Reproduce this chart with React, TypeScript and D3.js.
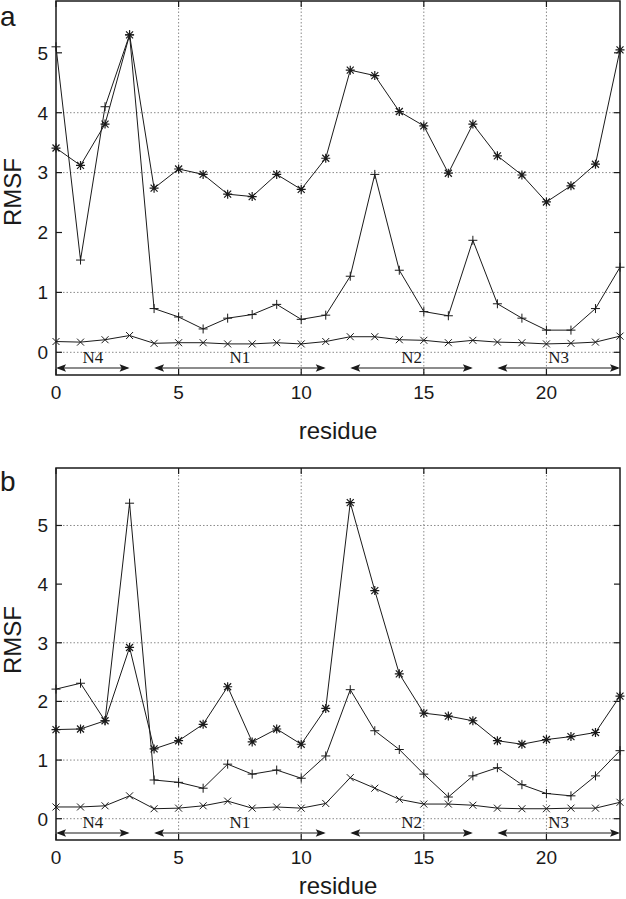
import React from "react";
import * as d3 from "d3";

const residues = [0,1,2,3,4,5,6,7,8,9,10,11,12,13,14,15,16,17,18,19,20,21,22,23];

const aStar = [3.41,3.12,3.81,5.30,2.74,3.06,2.97,2.64,2.60,2.97,2.72,3.24,4.71,4.62,4.02,3.78,2.99,3.81,3.28,2.96,2.51,2.78,3.14,5.05];
const aPlus = [5.10,1.54,4.10,5.30,0.73,0.59,0.39,0.57,0.63,0.80,0.55,0.62,1.27,2.97,1.37,0.68,0.61,1.87,0.81,0.57,0.37,0.37,0.73,1.42];
const aCross = [0.18,0.17,0.21,0.28,0.15,0.16,0.16,0.14,0.14,0.16,0.14,0.18,0.26,0.26,0.21,0.20,0.16,0.20,0.17,0.16,0.14,0.15,0.17,0.27];

const bStar = [1.52,1.53,1.67,2.92,1.19,1.33,1.61,2.25,1.31,1.53,1.27,1.88,5.39,3.89,2.47,1.80,1.75,1.67,1.33,1.27,1.35,1.40,1.47,2.09];
const bPlus = [2.21,2.31,1.67,5.38,0.66,0.62,0.52,0.93,0.76,0.83,0.69,1.07,2.20,1.50,1.18,0.76,0.37,0.73,0.87,0.58,0.43,0.39,0.73,1.16];
const bCross = [0.20,0.20,0.22,0.39,0.17,0.18,0.22,0.30,0.18,0.20,0.18,0.26,0.70,0.52,0.33,0.25,0.25,0.23,0.18,0.17,0.17,0.18,0.18,0.28];

const regionNames = ["N4", "N1", "N2", "N3"];
const regionStart = [0, 4, 12, 18];
const regionEnd = [3, 11, 17, 23];

const xTicks = [0, 5, 10, 15, 20];
const yTicks = [0, 1, 2, 3, 4, 5];
const gridA = [0, 1, 3, 4];
const gridB = [0, 1, 2, 3, 5];

const SANS = "Liberation Sans, Arial, Helvetica, sans-serif";
const SERIF = "Liberation Serif, Times New Roman, serif";
const INK = "#1a1a1a";

type Kind = "star" | "plus" | "cross";

function Marker({ x, y, kind }: { x: number; y: number; kind: Kind }) {
  const p = 4.5;
  const c = 3.5;
  const plus = `M${x - p},${y}H${x + p}M${x},${y - p}V${y + p}`;
  const cross = `M${x - c},${y - c}L${x + c},${y + c}M${x - c},${y + c}L${x + c},${y - c}`;
  const d = kind === "plus" ? plus : kind === "cross" ? cross : plus + cross;
  return <path d={d} stroke={INK} strokeWidth={kind === "star" ? 1.2 : 1} fill="none" />;
}

function Panel(props: {
  top: number;
  bottom: number;
  yDomain: [number, number];
  series: { values: number[]; kind: Kind }[];
  grid: number[];
  letter: string;
  letterY: number;
  rmsfY: number;
  titleDy: number;
}) {
  const { top, bottom, yDomain, series, grid, letter, letterY, rmsfY, titleDy } = props;
  const left = 56;
  const right = 620;
  const x = d3.scaleLinear().domain([0, 23]).range([left, right]);
  const y = d3.scaleLinear().domain(yDomain).range([bottom, top]);
  const line = d3
    .line<number>()
    .x((_, i) => x(residues[i]))
    .y((v) => y(v));
  const arrowY = bottom - 7;
  const labelY = bottom - 18;
  const tick = 6;
  return (
    <g>
      {grid.map((g) => (
        <line key={"gy" + g} x1={left} x2={right} y1={y(g)} y2={y(g)} stroke="#8a8a8a" strokeWidth={1} strokeDasharray="1.5,2" />
      ))}
      {xTicks.filter((t) => t > 0).map((t) => (
        <line key={"gx" + t} x1={x(t)} x2={x(t)} y1={top} y2={bottom} stroke="#8a8a8a" strokeWidth={1} strokeDasharray="1.5,2" />
      ))}
      {yTicks.map((t) => (
        <g key={"yt" + t}>
          <line x1={left} x2={left + tick} y1={y(t)} y2={y(t)} stroke={INK} strokeWidth={1.2} />
          <line x1={right - tick} x2={right} y1={y(t)} y2={y(t)} stroke={INK} strokeWidth={1.2} />
          <text x={48} y={y(t)} dy="0.36em" textAnchor="end" fontFamily={SANS} fontSize={19} fill={INK}>
            {t}
          </text>
        </g>
      ))}
      {xTicks.map((t) => (
        <g key={"xt" + t}>
          <line x1={x(t)} x2={x(t)} y1={top} y2={top + tick} stroke={INK} strokeWidth={1.2} />
          <line x1={x(t)} x2={x(t)} y1={bottom - tick} y2={bottom} stroke={INK} strokeWidth={1.2} />
          <text x={x(t)} y={bottom + 17} dy="0.36em" textAnchor="middle" fontFamily={SANS} fontSize={19} fill={INK}>
            {t}
          </text>
        </g>
      ))}
      {regionNames.map((n, i) => {
        const x1 = x(regionStart[i]);
        const x2 = x(regionEnd[i]);
        const h = 10;
        const w = 3.8;
        return (
          <g key={n}>
            <line x1={x1 + 2} x2={x2 - 2} y1={arrowY} y2={arrowY} stroke={INK} strokeWidth={1.2} />
            <path d={`M${x1},${arrowY}L${x1 + h},${arrowY - w}L${x1 + h - 2},${arrowY}L${x1 + h},${arrowY + w}Z`} fill={INK} />
            <path d={`M${x2},${arrowY}L${x2 - h},${arrowY - w}L${x2 - h + 2},${arrowY}L${x2 - h},${arrowY + w}Z`} fill={INK} />
            <text x={(x1 + x2) / 2} y={labelY} dy="0.35em" textAnchor="middle" fontFamily={SERIF} fontSize={17} fill={INK}>
              {n}
            </text>
          </g>
        );
      })}
      {series.map((s, si) => (
        <g key={"s" + si}>
          <path d={line(s.values) || ""} fill="none" stroke={INK} strokeWidth={1} />
          {s.values.map((v, i) => (
            <Marker key={i} x={x(residues[i])} y={y(v)} kind={s.kind} />
          ))}
        </g>
      ))}
      <rect x={left} y={top} width={right - left} height={bottom - top} fill="none" stroke={INK} strokeWidth={1.5} />
      <text x={(left + right) / 2} y={bottom + titleDy} dy="0.36em" textAnchor="middle" fontFamily={SANS} fontSize={24} fill={INK}>
        residue
      </text>
      <text transform={`translate(12,${rmsfY}) rotate(-90)`} dy="0.36em" textAnchor="middle" fontFamily={SANS} fontSize={24} fill={INK}>
        RMSF
      </text>
      <text x={0} y={letterY} fontFamily={SANS} fontSize={28} fill={INK}>
        {letter}
      </text>
    </g>
  );
}

export default function App() {
  return (
    <svg
      width={626}
      height={899}
      style={{ position: "absolute", left: 0, top: 0, background: "#fff" }}
    >
      <rect width={626} height={899} fill="#fff" />
      <Panel
        top={1}
        bottom={375}
        yDomain={[-0.379, 5.865]}
        series={[
          { values: aStar, kind: "star" },
          { values: aPlus, kind: "plus" },
          { values: aCross, kind: "cross" },
        ]}
        grid={gridA}
        letter="a"
        letterY={26}
        rmsfY={192}
        titleDy={55}
      />
      <Panel
        top={468}
        bottom={840}
        yDomain={[-0.363, 5.98]}
        series={[
          { values: bStar, kind: "star" },
          { values: bPlus, kind: "plus" },
          { values: bCross, kind: "cross" },
        ]}
        grid={gridB}
        letter="b"
        letterY={491}
        rmsfY={640}
        titleDy={45}
      />
    </svg>
  );
}
